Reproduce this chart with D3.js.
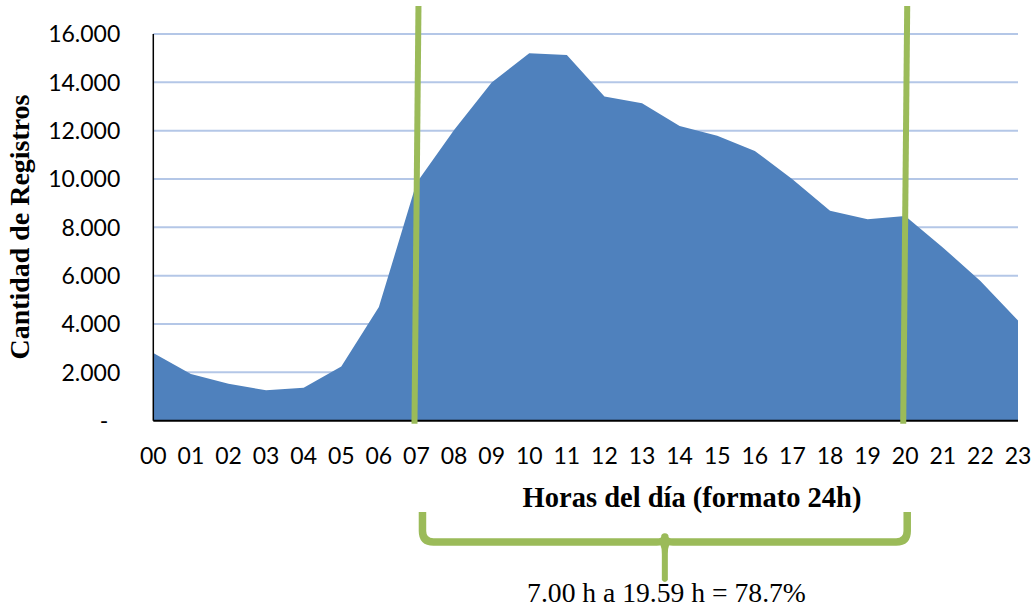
<!DOCTYPE html>
<html>
<head>
<meta charset="utf-8">
<script src="https://cdn.jsdelivr.net/npm/d3@7"></script>
<style>
  html, body { margin: 0; padding: 0; background: #fff; }
  svg { display: block; }
</style>
</head>
<body>
<svg id="chart" width="1032" height="607"></svg>
<script>
// ---- data ----
const hours = ["00","01","02","03","04","05","06","07","08","09","10","11",
               "12","13","14","15","16","17","18","19","20","21","22","23"];
const registros = [2800, 1930, 1530, 1260, 1360, 2240, 4700, 9830, 12030, 13990,
                   15200, 15130, 13410, 13130, 12190, 11790, 11160, 9990, 8690, 8330,
                   8470, 7170, 5780, 4150];
const yTicks = [0, 2000, 4000, 6000, 8000, 10000, 12000, 14000, 16000];
const markerHours = ["07", "20"];
const xTitle = "Horas del día (formato 24h)";
const yTitle = "Cantidad de Registros";
const annotation = "7.00 h a 19.59 h = 78.7%";

(function () {
// ---- layout ----
const W = 1032, H = 607;
const m = { left: 153.3, right: 14, top: 34, bottom: 186.3 };
const iw = W - m.left - m.right, ih = H - m.top - m.bottom;
const green = "#9bbb59", blue = "#4f81bd", grid = "#b4c7e7";

const svg = d3.select("#chart");
const g = svg.append("g").attr("transform", `translate(${m.left},${m.top})`);

const x = d3.scalePoint().domain(hours).range([0, iw]);
const y = d3.scaleLinear().domain([0, 16000]).range([ih, 0]);

// gridlines
g.append("g").selectAll("line").data(yTicks.filter(d => d > 0)).join("line")
  .attr("x1", 0).attr("x2", iw)
  .attr("y1", d => y(d)).attr("y2", d => y(d))
  .attr("stroke", grid).attr("stroke-width", 2);

// area
const area = d3.area()
  .x((d, i) => x(hours[i]))
  .y0(y(0)).y1(d => y(d));
g.append("path").datum(registros).attr("d", area).attr("fill", blue);

// axes lines
g.append("line").attr("x1", 0).attr("x2", 0).attr("y1", y(16000)).attr("y2", y(0))
  .attr("stroke", "#000").attr("stroke-width", 1.5);
g.append("line").attr("x1", 0).attr("x2", iw).attr("y1", y(0)).attr("y2", y(0))
  .attr("stroke", "#000").attr("stroke-width", 2);

// y tick labels
const fmt = d => d === 0 ? "-" : d3.format(",")(d).replace(/,/g, ".");
g.append("g").selectAll("text").data(yTicks).join("text")
  .attr("x", d => d === 0 ? -45 : -33)
  .attr("y", d => y(d))
  .attr("dy", "0.36em")
  .attr("text-anchor", "end")
  .attr("font-family", "Lato, 'Liberation Sans', sans-serif")
  .attr("font-size", 23)
  .attr("fill", "#000")
  .text(fmt);

// x tick labels
g.append("g").selectAll("text").data(hours).join("text")
  .attr("x", d => x(d))
  .attr("y", ih + 43)
  .attr("text-anchor", "middle")
  .attr("font-family", "Lato, 'Liberation Sans', sans-serif")
  .attr("font-size", 23)
  .attr("fill", "#000")
  .text(d => d);

// green marker lines (slightly tilted as in original)
g.append("g").selectAll("line").data(markerHours).join("line")
  .attr("x1", d => x(d) + 2).attr("y1", 6 - m.top)
  .attr("x2", d => x(d) - 2).attr("y2", ih + 3)
  .attr("stroke", green).attr("stroke-width", 6);

// fit text width helper
function fit(sel, target) {
  const w = sel.node().getComputedTextLength();
  const fs = parseFloat(sel.attr("font-size"));
  sel.attr("font-size", fs * target / w);
}

// x title
const xt = svg.append("text")
  .attr("x", 692).attr("y", 507)
  .attr("text-anchor", "middle")
  .attr("font-family", "'Liberation Serif', 'DejaVu Serif', serif")
  .attr("font-weight", "bold").attr("font-size", 24)
  .text(xTitle);
fit(xt, 339);

// y title
const yt = svg.append("text")
  .attr("transform", "translate(29,227) rotate(-90)")
  .attr("text-anchor", "middle")
  .attr("font-family", "'Liberation Serif', 'DejaVu Serif', serif")
  .attr("font-weight", "bold").attr("font-size", 24)
  .text(yTitle);
fit(yt, 265);

// bracket
const L = m.left + x(markerHours[0]) + 6;
const R = m.left + x(markerHours[1]) + 2;
const C = (L + R) / 2;
const bTop = 512, hy = 542, r = 11, tipY = 580;
const p = d3.path();
p.moveTo(L, bTop); p.lineTo(L, hy - r); p.quadraticCurveTo(L, hy, L + r, hy);
p.lineTo(C - 8, hy); p.quadraticCurveTo(C, hy, C, hy - 5);
p.quadraticCurveTo(C, hy, C + 8, hy);
p.lineTo(R - r, hy); p.quadraticCurveTo(R, hy, R, hy - r); p.lineTo(R, bTop);
svg.append("path").attr("d", p.toString()).attr("fill", "none")
  .attr("stroke", green).attr("stroke-width", 7.5).attr("stroke-linejoin", "round");
// tip
const t = d3.path();
t.moveTo(C - 9, hy - 3);
t.quadraticCurveTo(C - 3, hy, C - 3, hy + 12);
t.lineTo(C - 3, tipY);
t.quadraticCurveTo(C, tipY + 4, C + 3, tipY);
t.lineTo(C + 3, hy + 12);
t.quadraticCurveTo(C + 3, hy, C + 9, hy - 3);
t.closePath();
svg.append("path").attr("d", t.toString()).attr("fill", green);

// annotation
const an = svg.append("text")
  .attr("x", 666.5).attr("y", 602)
  .attr("text-anchor", "middle")
  .attr("font-family", "'Liberation Serif', 'DejaVu Serif', serif")
  .attr("font-size", 24)
  .text(annotation);
fit(an, 279);
})();
</script>
</body>
</html>
